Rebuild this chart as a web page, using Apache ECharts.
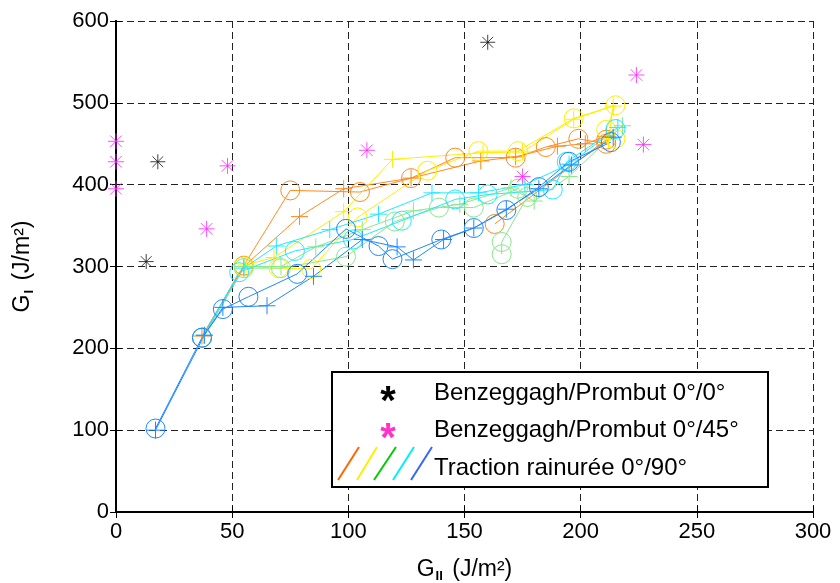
<!DOCTYPE html>
<html>
<head>
<meta charset="utf-8">
<script src="https://cdn.jsdelivr.net/npm/echarts@6/dist/echarts.min.js"></script>
<style>
  html, body { margin: 0; padding: 0; background: #fff; }
  #chart { width: 840px; height: 583px; }
</style>
</head>
<body>
<div id="chart"></div>
<script>
// axis ticks
var xTicks = [0, 50, 100, 150, 200, 250, 300];
var yTicks = [0, 100, 200, 300, 400, 500, 600];

// Benzeggagh/Prombut points [GII, GI]
var bp0 = [[160, 574], [18, 428], [13, 306]];
var bp45 = [[0, 453], [0, 428], [0, 395], [48, 423], [39, 346], [108, 442], [224, 534], [227, 449], [175, 410]];

// traction rainuree curves, circle runs and plus runs
var orangeO = [[37, 213], [55, 301], [75, 393], [105, 391], [127, 408], [146, 433], [172, 433], [185, 446], [199, 456], [211, 450]];
var orangeP = [[37, 215], [55, 300], [79, 361], [98, 395], [127, 408], [157, 429], [172, 434], [190, 447], [202, 450], [211, 459]];
var orangeO2 = [[163, 352], [211, 455]];
var yellowO = [[55, 300], [70, 298], [84, 297], [104, 360], [134, 417], [156, 441], [173, 441], [197, 481], [215, 497], [211, 467], [215, 456]];
var yellowP = [[56, 302], [68, 311], [98, 367], [119, 431], [158, 439], [175, 440], [197, 480], [214, 496], [212, 455]];
var greenO = [[55, 298], [71, 298], [99, 312], [120, 355], [139, 372], [154, 372], [173, 395], [177, 385], [166, 330], [166, 315]];
var greenP = [[55, 300], [71, 300], [86, 324], [106, 345], [128, 368], [148, 376], [170, 396], [180, 380], [195, 410], [218, 472]];
var cyanO = [[37, 213], [53, 293], [77, 319], [102, 333], [123, 356], [146, 382], [160, 388], [188, 394], [194, 428], [215, 468]];
var cyanP = [[38, 216], [55, 298], [69, 325], [92, 345], [113, 364], [136, 390], [156, 390], [176, 400], [195, 425], [216, 470]];
var blueO = [[17, 102], [37, 213], [46, 248], [57, 263], [78, 291], [99, 346], [113, 325], [119, 309], [140, 333], [154, 347], [168, 369], [182, 397], [195, 428], [213, 452]];
var blueP = [[17, 100], [38, 216], [46, 250], [65, 252], [85, 288], [106, 333], [121, 324], [128, 308], [141, 333], [154, 347], [168, 370], [182, 395], [196, 424], [214, 458]];

var plusPath = 'path://M0,-1L0,1M-1,0L1,0';
var starPath = 'path://M0,-1L0,1M-1,0L1,0M-0.72,-0.72L0.72,0.72M-0.72,0.72L0.72,-0.72';

function curve(data, color, mark) {
    return {
        type: 'line',
        data: data,
        symbol: mark == 'o' ? 'circle' : plusPath,
        symbolSize: mark == 'o' ? 19 : 17,
        lineStyle: { color: color, width: 1 },
        itemStyle: { color: mark == 'o' ? 'rgba(0,0,0,0)' : 'none', borderColor: color, borderWidth: 1 },
        emphasis: { disabled: true },
        animation: false,
        z: 2
    };
}

function stars(data, color, size) {
    return {
        type: 'scatter',
        data: data,
        symbol: starPath,
        symbolSize: size,
        itemStyle: { color: 'none', borderColor: color, borderWidth: 1 },
        animation: false,
        z: 5
    };
}

var chart = echarts.init(document.getElementById('chart'));
var font = 'Liberation Sans';

var option = {
    backgroundColor: '#fff',
    grid: { left: 116, right: 27, top: 21, bottom: 71, containLabel: false, outerBoundsMode: 'none' },
    xAxis: [{
        type: 'value', min: xTicks[0], max: xTicks[xTicks.length - 1], interval: 50,
        axisLine: { lineStyle: { color: '#000', width: 2 } },
        axisTick: { inside: true, length: 6, lineStyle: { color: '#000' } },
        axisLabel: { color: '#000', fontSize: 22, fontFamily: font, margin: 9 },
        splitLine: { show: true, lineStyle: { color: '#222', type: [7, 4], width: 1 } },
        name: '{g|G}{s|II}{g| (J/m²)}',
        nameLocation: 'middle',
        nameGap: 44,
        nameTextStyle: {
            rich: {
                g: { fontSize: 23, fontFamily: font, color: '#000' },
                s: { fontSize: 13, fontFamily: font, fontWeight: 'bold', color: '#000', padding: [14, 3, 0, 1] }
            }
        }
    }, {
        type: 'value', position: 'top', min: 0, max: 300, interval: 50,
        axisLine: { show: true, lineStyle: { color: '#000', width: 2 } },
        axisTick: { inside: true, length: 6, lineStyle: { color: '#000' } },
        axisLabel: { show: false },
        splitLine: { show: false }
    }],
    yAxis: [{
        type: 'value', min: yTicks[0], max: yTicks[yTicks.length - 1], interval: 100,
        axisLine: { show: true, lineStyle: { color: '#000', width: 2 } },
        axisTick: { show: true, inside: true, length: 6, lineStyle: { color: '#000' } },
        axisLabel: { color: '#000', fontSize: 22, fontFamily: font, margin: 7 },
        splitLine: { show: true, lineStyle: { color: '#222', type: [7, 4], width: 1 } },
        name: '{g|G}{s|I}{g| (J/m²)}',
        nameLocation: 'middle',
        nameRotate: 90,
        nameGap: 80,
        nameTextStyle: {
            rich: {
                g: { fontSize: 23, fontFamily: font, color: '#000' },
                s: { fontSize: 13, fontFamily: font, fontWeight: 'bold', color: '#000', padding: [14, 3, 0, 1] }
            }
        }
    }, {
        type: 'value', position: 'right', min: 0, max: 600, interval: 100,
        axisLine: { show: true, lineStyle: { color: '#000', width: 2 } },
        axisTick: { show: true, inside: true, length: 6, lineStyle: { color: '#000' } },
        axisLabel: { show: false },
        splitLine: { show: false }
    }],
    series: [
        curve(orangeO, '#ff8a1e', 'o'),
        curve(orangeP, '#ff8a1e', '+'),
        curve(orangeO2, '#ff8a1e', 'o'),
        curve(yellowO, '#ffee00', 'o'),
        curve(yellowP, '#ffee00', '+'),
        curve(greenO, '#8ae88a', 'o'),
        curve(greenP, '#8ae88a', '+'),
        curve(cyanO, '#22e8ff', 'o'),
        curve(cyanP, '#22e8ff', '+'),
        curve(blueO, '#1e88ff', 'o'),
        curve(blueP, '#1e88ff', '+'),
        stars(bp0, '#111', 15),
        stars(bp45, '#ff22ff', 16)
    ],
    graphic: [
        { type: 'rect', shape: { x: 332, y: 372, width: 436, height: 115 }, style: { fill: '#fff', stroke: '#000', lineWidth: 2 }, z: 100 },
        { type: 'text', x: 388, y: 403, style: { text: '*', fill: '#000', font: 'bold 40px Liberation Sans', textAlign: 'center', textVerticalAlign: 'middle' }, z: 101 },
        { type: 'text', x: 388, y: 440, style: { text: '*', fill: '#ff33cc', font: 'bold 40px Liberation Sans', textAlign: 'center', textVerticalAlign: 'middle' }, z: 101 },
        { type: 'text', x: 434, y: 393, style: { text: 'Benzeggagh/Prombut 0°/0°', fill: '#000', font: '24px Liberation Sans', textVerticalAlign: 'middle' }, z: 101 },
        { type: 'text', x: 434, y: 430, style: { text: 'Benzeggagh/Prombut 0°/45°', fill: '#000', font: '24px Liberation Sans', textVerticalAlign: 'middle' }, z: 101 },
        { type: 'text', x: 434, y: 468, style: { text: 'Traction rainurée 0°/90°', fill: '#000', font: '24px Liberation Sans', textVerticalAlign: 'middle' }, z: 101 },
        { type: 'line', shape: { x1: 338, y1: 480, x2: 359, y2: 447 }, style: { stroke: '#ff6600', lineWidth: 2 }, z: 101 },
        { type: 'line', shape: { x1: 357, y1: 480, x2: 377, y2: 447 }, style: { stroke: '#ffee00', lineWidth: 2 }, z: 101 },
        { type: 'line', shape: { x1: 374, y1: 480, x2: 396, y2: 447 }, style: { stroke: '#00cc00', lineWidth: 2 }, z: 101 },
        { type: 'line', shape: { x1: 393, y1: 480, x2: 414, y2: 447 }, style: { stroke: '#00eeff', lineWidth: 2 }, z: 101 },
        { type: 'line', shape: { x1: 411, y1: 480, x2: 432, y2: 447 }, style: { stroke: '#3366ff', lineWidth: 2 }, z: 101 }
    ]
};
chart.setOption(option);
</script>
</body>
</html>
